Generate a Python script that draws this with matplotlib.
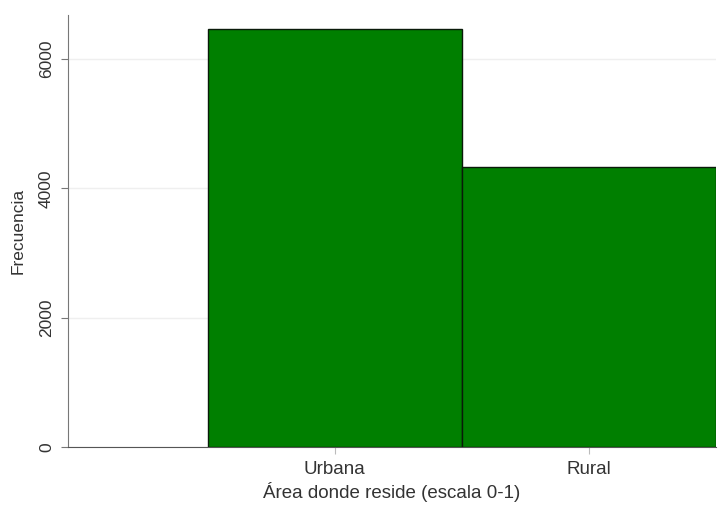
import numpy as np
import matplotlib.pyplot as plt

plt.rcParams['font.family'] = ['Liberation Sans', 'DejaVu Sans']

# Datos
categorias = ['Urbana', 'Rural']
posiciones = [0, 1]
frecuencias = [6460, 4325]
y_ticks = [0, 2000, 4000, 6000]

fig = plt.figure(figsize=(7.21, 5.08), dpi=100)
ax = fig.add_axes([68/721, 1 - 447/508, (716 - 68)/721, (447 - 15)/508])

ax.bar(posiciones, frecuencias, width=1.0, color='#007f00',
       edgecolor='#0a1a0a', linewidth=1.0, zorder=3)

ax.set_xlim(-1.05, 1.5)
ax.set_ylim(0, 6680)

ax.set_yticks(y_ticks)
ax.set_yticklabels([str(v) for v in y_ticks], rotation=90, va='center',
                   fontsize=12.5, color='#333333')
ax.set_xticks(posiciones)
ax.set_xticklabels(categorias, fontsize=13.5, color='#333333')

ax.grid(axis='y', color='#efefef', linewidth=1.0, zorder=0)
ax.tick_params(axis='y', length=5, color='#777777', pad=5)
ax.tick_params(axis='x', length=5, color='#bbbbbb', pad=5)

for s in ['top', 'right']:
    ax.spines[s].set_visible(False)
ax.spines['left'].set_color('#777777')
ax.spines['bottom'].set_color('#555555')

ax.set_ylabel('Frecuencia', fontsize=12.5, color='#333333', labelpad=10)
ax.set_xlabel('Área donde reside (escala 0-1)', fontsize=13.5,
              color='#333333', labelpad=3)

fig.savefig('out.png', dpi=100)
